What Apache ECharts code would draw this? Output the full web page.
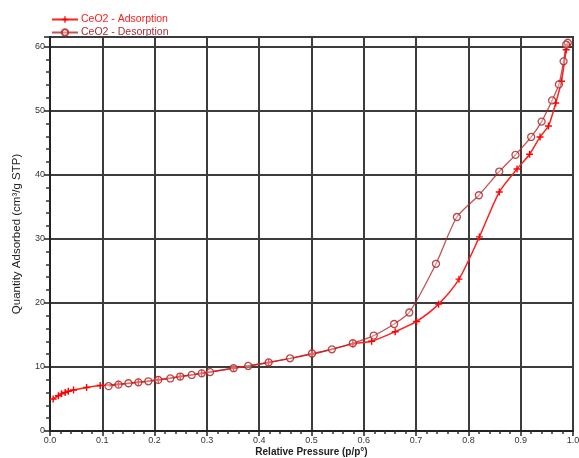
<!DOCTYPE html>
<html>
<head>
<meta charset="utf-8">
<script src="https://cdn.jsdelivr.net/npm/echarts@6/dist/echarts.min.js"></script>
<style>
  html, body { margin: 0; padding: 0; background: #fff; }
  #chart { width: 579px; height: 458px; }
</style>
</head>
<body>
<div id="chart"></div>
<script>
// Nitrogen isotherm of CeO2: adsorption and desorption branches
const seriesNames = ['CeO2 - Adsorption', 'CeO2 - Desorption'];

const adsPressure = [0.006, 0.016, 0.022, 0.029, 0.035, 0.045, 0.070, 0.096, 0.131, 0.169, 0.207, 0.249,
  0.290, 0.351, 0.418, 0.501, 0.579, 0.615, 0.660, 0.701, 0.743, 0.782, 0.821, 0.859, 0.893, 0.917,
  0.937, 0.953, 0.967, 0.978, 0.987, 0.990];
const adsQuantity = [5.0, 5.5, 5.8, 6.0, 6.2, 6.4, 6.8, 7.1, 7.3, 7.6, 8.0, 8.5,
  9.0, 9.8, 10.7, 12.0, 13.6, 14.0, 15.5, 17.1, 19.8, 23.7, 30.3, 37.3, 40.9, 43.2,
  45.9, 47.6, 51.2, 54.6, 59.5, 60.3];

const desPressure = [0.990, 0.987, 0.982, 0.973, 0.960, 0.940, 0.920, 0.890, 0.859, 0.820, 0.778, 0.738,
  0.687, 0.658, 0.619, 0.579, 0.539, 0.501, 0.459, 0.418, 0.379, 0.351, 0.306, 0.290, 0.271, 0.249,
  0.230, 0.207, 0.188, 0.169, 0.150, 0.131, 0.112];
const desQuantity = [60.6, 60.3, 57.7, 54.1, 51.6, 48.3, 45.9, 43.1, 40.5, 36.8, 33.4, 26.1,
  18.5, 16.7, 14.9, 13.7, 12.75, 12.1, 11.35, 10.7, 10.15, 9.8, 9.2, 9.0, 8.75, 8.5,
  8.2, 7.97, 7.76, 7.6, 7.45, 7.24, 7.0];

const xTickStep = 0.1;
const yTickStep = 10;

const pairs = (xs, ys) => xs.map((x, i) => [x, ys[i]]);

const plusSymbol = 'path://M4,0h2v4h4v2h-4v4h-2v-4h-4v-2h4z';

const chart = echarts.init(document.getElementById('chart'), null, { renderer: 'canvas' });

const gridLine = { show: true, lineStyle: { color: '#3c3c3c', width: 2 } };
const labelStyle = { color: '#333', fontSize: 9, fontFamily: 'Liberation Sans, Arial, sans-serif' };

chart.setOption({
  animation: false,
  backgroundColor: '#fff',
  grid: {
    left: 50, right: 6, top: 37, bottom: 27,
    outerBoundsMode: 'none',
    containLabel: false,
    show: true, borderColor: '#333', borderWidth: 2, backgroundColor: 'transparent'
  },
  legend: {
    orient: 'vertical',
    left: 46, top: 9,
    itemGap: 2,
    itemWidth: 26, itemHeight: 8,
    textStyle: { fontSize: 10.5, fontFamily: 'Liberation Sans, Arial, sans-serif', padding: [0, 0, 0, -2] },
    data: [
      { name: seriesNames[0], textStyle: { color: '#ff1a1a' } },
      { name: seriesNames[1], textStyle: { color: '#a2303c' } }
    ]
  },
  xAxis: {
    type: 'value',
    min: 0, max: 1, interval: xTickStep,
    name: 'Relative Pressure (p/p°)',
    nameLocation: 'middle', nameGap: 16,
    nameMoveOverlap: false,
    nameTextStyle: { color: '#222', fontSize: 10, fontWeight: 'bold', fontFamily: 'Liberation Sans, Arial, sans-serif' },
    axisLine: { show: true, onZero: false, lineStyle: { color: '#222', width: 2 } },
    axisTick: { show: true, length: 5, lineStyle: { color: '#222', width: 1.5 } },
    minorTick: { show: true, splitNumber: 5, length: 3, lineStyle: { color: '#333', width: 1.5 } },
    axisLabel: Object.assign({ margin: 5, formatter: v => v.toFixed(1) }, labelStyle),
    splitLine: gridLine
  },
  yAxis: {
    type: 'value',
    min: 0, max: 61.5, interval: yTickStep,
    name: 'Quantity Adsorbed (cm³/g STP)',
    nameLocation: 'middle', nameGap: 27,
    nameMoveOverlap: false,
    nameTextStyle: { color: '#222', fontSize: 11.5, fontFamily: 'Liberation Sans, Arial, sans-serif' },
    axisLine: { show: true, onZero: false, lineStyle: { color: '#222', width: 2 } },
    axisTick: { show: true, length: 6, lineStyle: { color: '#222', width: 1.5 } },
    minorTick: { show: true, splitNumber: 5, length: 4, lineStyle: { color: '#333', width: 1.5 } },
    axisLabel: Object.assign({
      margin: 5, showMaxLabel: false,
      formatter: v => (v % yTickStep === 0 ? String(v) : '')
    }, labelStyle),
    splitLine: gridLine
  },
  series: [
    {
      name: seriesNames[0],
      type: 'line',
      data: pairs(adsPressure, adsQuantity),
      smooth: 0.25,
      symbol: plusSymbol,
      symbolSize: 7,
      showAllSymbol: true,
      lineStyle: { color: '#ff2020', width: 1.5 },
      itemStyle: { color: '#ff0000' },
      z: 2
    },
    {
      name: seriesNames[1],
      type: 'line',
      data: pairs(desPressure, desQuantity),
      smooth: 0.25,
      symbol: 'circle',
      symbolSize: 7,
      showAllSymbol: true,
      lineStyle: { color: 'rgba(180,40,40,0.8)', width: 1.3 },
      itemStyle: { color: 'rgba(255,255,255,0.35)', borderColor: 'rgba(175,40,40,0.85)', borderWidth: 1.3 },
      z: 3
    }
  ]
});
</script>
</body>
</html>
